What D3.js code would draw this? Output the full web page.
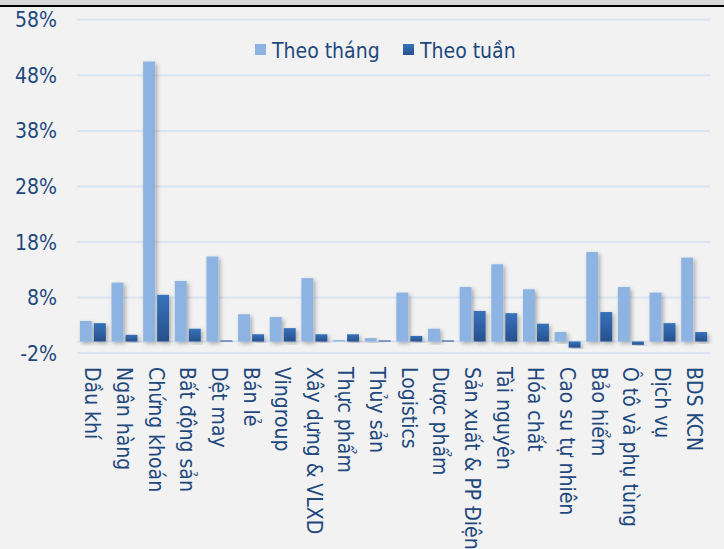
<!DOCTYPE html>
<html>
  <head>
    <meta charset="utf-8" />
    <style>
      body {
        margin: 0;
        background-color: #f2f2f2;
      }
      svg text {
        font-family: "DejaVu Sans Condensed", "DejaVu Sans", sans-serif;
        font-stretch: condensed;
        fill: #1f497d;
      }
    </style>
  </head>

  <body>
    <svg width="724" height="549"></svg>
  </body>

  <script src="https://d3js.org/d3.v7.min.js"></script>

  <script>
    // categories (sectors) and the two series, in %
    let categories = [
      "Dầu khí",
      "Ngân hàng",
      "Chứng khoán",
      "Bất động sản",
      "Dệt may",
      "Bán lẻ",
      "Vingroup",
      "Xây dựng & VLXD",
      "Thực phẩm",
      "Thủy sản",
      "Logistics",
      "Dược phẩm",
      "Sản xuất & PP Điện",
      "Tài nguyên",
      "Hóa chất",
      "Cao su tự nhiên",
      "Bảo hiểm",
      "Ô tô và phụ tùng",
      "Dịch vụ",
      "BDS KCN",
    ];

    let theoThang = [
      3.7, 10.6, 50.4, 10.9, 15.3, 4.9, 4.4, 11.4, 0.25, 0.6, 8.8, 2.3, 9.8,
      13.9, 9.4, 1.7, 16.1, 9.8, 8.8, 15.1,
    ];

    let theoTuan = [
      3.3, 1.2, 8.4, 2.3, 0.2, 1.3, 2.4, 1.3, 1.3, 0.2, 1.0, 0.2, 5.5, 5.1,
      3.2, -1.1, 5.3, -0.6, 3.3, 1.7,
    ];

    let seriesNames = ["Theo tháng", "Theo tuần"];
    let yTicks = [-2, 8, 18, 28, 38, 48, 58];

    let width = 724;
    let height = 549;
    let margin = { top: 19.3, right: 14, bottom: 196.4, left: 77 };

    let svg = d3.select("svg");

    // frame at the top (grey strip + black rule)
    svg.append("rect").attr("x", 0).attr("y", 0).attr("width", width).attr("height", 5).attr("fill", "#d9d9d9");
    svg.append("rect").attr("x", 0).attr("y", 5).attr("width", width).attr("height", 2).attr("fill", "#000");

    let defs = svg.append("defs");

    let grad = defs
      .append("linearGradient")
      .attr("id", "darkGrad")
      .attr("x1", 0)
      .attr("y1", 0)
      .attr("x2", 0)
      .attr("y2", 1);
    grad.append("stop").attr("offset", "0%").attr("stop-color", "#3772bb");
    grad.append("stop").attr("offset", "100%").attr("stop-color", "#27508d");

    let shadow = defs
      .append("filter")
      .attr("id", "shadow")
      .attr("x", "-50%")
      .attr("y", "-20%")
      .attr("width", "200%")
      .attr("height", "140%");
    shadow
      .append("feDropShadow")
      .attr("dx", 2)
      .attr("dy", 2)
      .attr("stdDeviation", 2)
      .attr("flood-color", "#000")
      .attr("flood-opacity", 0.3);

    let y = d3
      .scaleLinear()
      .domain([-2, 58])
      .range([height - margin.bottom, margin.top]);

    let x0 = d3
      .scaleBand()
      .domain(categories)
      .range([margin.left, width - margin.right])
      .paddingInner(0.18)
      .paddingOuter(0.09);

    let x1 = d3
      .scaleBand()
      .domain(seriesNames)
      .range([0, x0.bandwidth()])
      .paddingInner(0.15);

    // gridlines + tick labels
    let yAxisSettings = d3
      .axisLeft(y)
      .tickValues(yTicks)
      .tickSize(-(width - margin.right - margin.left))
      .tickFormat((d) => d + "%")
      .tickPadding(20);

    let yAxisTicks = svg
      .append("g")
      .attr("class", "y axis")
      .attr("transform", `translate(${margin.left}, 0)`)
      .call(yAxisSettings);

    yAxisTicks.select(".domain").remove();
    yAxisTicks.selectAll(".tick line").attr("stroke", "#dae4f1").attr("stroke-width", 2);
    yAxisTicks.selectAll(".tick text").attr("font-size", 21).attr("dy", "0.36em");

    // zero line
    svg
      .append("line")
      .attr("x1", margin.left)
      .attr("x2", width - margin.right)
      .attr("y1", y(0))
      .attr("y2", y(0))
      .attr("stroke", "#dae4f1")
      .attr("stroke-width", 1.5);

    let data = categories.map((c, i) => ({
      category: c,
      values: [
        { key: seriesNames[0], value: theoThang[i] },
        { key: seriesNames[1], value: theoTuan[i] },
      ],
    }));

    let groups = svg
      .append("g")
      .selectAll("g")
      .data(data)
      .join("g")
      .attr("transform", (d) => `translate(${x0(d.category)}, 0)`);

    groups
      .selectAll("rect")
      .data((d) => d.values)
      .join("rect")
      .attr("x", (d) => x1(d.key))
      .attr("width", x1.bandwidth())
      .attr("y", (d) => y(Math.max(0, d.value)))
      .attr("height", (d) => Math.abs(y(d.value) - y(0)))
      .attr("fill", (d) => (d.key == seriesNames[0] ? "#8db3e2" : "url(#darkGrad)"))
      .attr("filter", "url(#shadow)");

    // category labels, rotated
    svg
      .append("g")
      .selectAll("text")
      .data(categories)
      .join("text")
      .attr("transform", (d) => `translate(${x0(d) + x0.bandwidth() / 2}, 367) rotate(90)`)
      .attr("dy", "0.36em")
      .attr("font-size", 21)
      .text((d) => d);

    // legend
    let legendX = [255, 403];
    let legend = svg
      .append("g")
      .selectAll("g")
      .data(seriesNames)
      .join("g")
      .attr("transform", (d, i) => `translate(${legendX[i]}, 50)`);

    legend
      .append("rect")
      .attr("x", 0)
      .attr("y", -6)
      .attr("width", 11)
      .attr("height", 11)
      .attr("fill", (d, i) => (i == 0 ? "#8db3e2" : "url(#darkGrad)"));

    legend
      .append("text")
      .attr("x", 17)
      .attr("dy", "0.36em")
      .attr("font-size", 21)
      .text((d) => d);
  </script>
</html>
